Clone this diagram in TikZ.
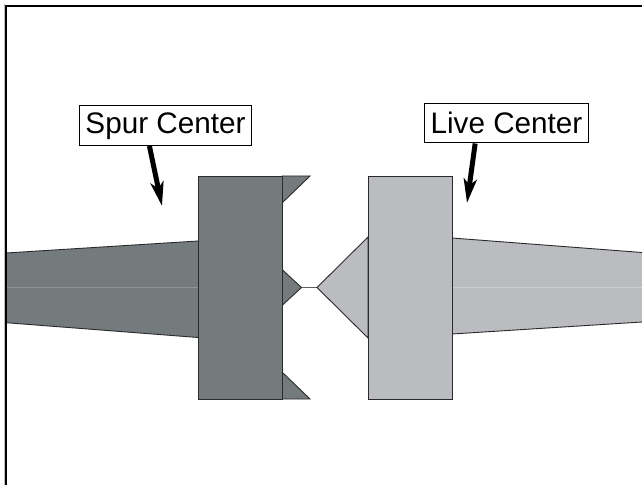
\documentclass[tikz,border=0pt]{standalone}
\usepackage{fontspec}
\setmainfont{Liberation Sans}
\usetikzlibrary{arrows.meta,calc}
\definecolor{spurfill}{HTML}{737B7D}
\definecolor{livefill}{HTML}{BBBCC0}
\definecolor{edgec}{HTML}{2A2A2C}
\definecolor{spurmid}{HTML}{8E9597}
\definecolor{livemid}{HTML}{CDCED1}
\tikzset{
  spurpart/.style={fill=spurfill,draw=edgec,line width=0.9bp,line join=miter},
  livepart/.style={fill=livefill,draw=edgec,line width=0.9bp,line join=miter},
  labelbox/.style={draw=black,fill=white,line width=1bp,inner sep=0pt,minimum height=39.5bp,font=\fontsize{29.8}{32}\selectfont,anchor=north west},
  pointer/.style={-{Stealth[length=24bp,width=13bp,inset=6bp]},line width=5bp,draw=black}
}
\begin{document}
\begin{tikzpicture}[x=1bp,y=-1bp]
\useasboundingbox (0,0) rectangle (642,485);
\fill[white] (0,0) rectangle (642,485);
% spur center
\fill[spurfill] (6,253) -- (198,241) -- (198,337.5) -- (6,322.7) -- cycle;
\draw[edgec,line width=0.9bp] (6,253) -- (198,241) (198,337.5) -- (6,322.7);
\draw[spurmid,line width=0.6bp] (7,287.5) -- (198,287.5);
\draw[spurpart] (282,176) -- (310,176) -- (282,203) -- cycle;
\draw[spurpart] (282,269.5) -- (301.5,287.5) -- (282,305.5) -- cycle;
\draw[spurpart] (282,372) -- (310,399) -- (282,399) -- cycle;
\node[spurpart,inner sep=0pt,minimum width=84bp,minimum height=223bp,anchor=north west] (spurblock) at (198,176) {};
% tip link
\coordinate (spurpoint) at (301.5,287.5);
\coordinate (livepoint) at (317,287.5);
\draw[edgec!75!white,line width=1.1bp] (spurpoint) -- (livepoint);
% live center
\fill[livefill] (452,238) -- (642,252.5) -- (642,322) -- (452,334) -- cycle;
\draw[edgec,line width=0.9bp] (452,238) -- (642,252.5) (642,322) -- (452,334);
\draw[livemid,line width=0.6bp] (453,287.5) -- (642,287.5);
\draw[livepart] (livepoint) -- (368,237) -- (368,338) -- cycle;
\node[livepart,inner sep=0pt,minimum width=84bp,minimum height=223bp,anchor=north west] (liveblock) at (368,176) {};
% frame
\draw[black!25,line width=1bp] (4.5,485) -- (4.5,4.5);
\draw[black,line width=2.8bp] (6,485) -- (6,6) -- (642,6);
% labels
\node[labelbox,minimum width=172bp] (spurlabel) at (79,105.5) {\raisebox{-1bp}{Spur Center}};
\node[labelbox,minimum width=164bp] (livelabel) at (424,103) {\raisebox{-1bp}{Live Center}};
\coordinate (spurtip) at (162,206);
\coordinate (livetip) at (467,203);
\draw[pointer] ($(spurlabel.south west)!0.407!(spurlabel.south east)$) -- (spurtip);
\draw[pointer] ($(livelabel.south west)!0.31!(livelabel.south east)$) -- (livetip);
\end{tikzpicture}
\end{document}
